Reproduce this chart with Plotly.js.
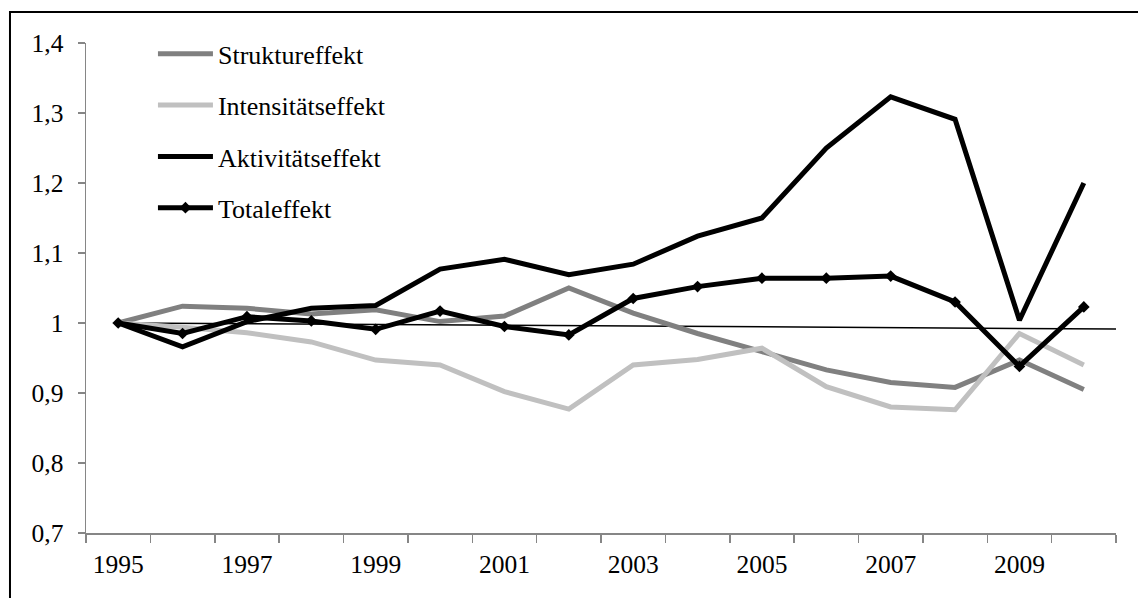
<!DOCTYPE html>
<html>
<head>
<meta charset="utf-8">
<script src="https://cdn.plot.ly/plotly-3.0.1.min.js"></script>
<style>
  html, body { margin: 0; padding: 0; background: #ffffff; }
  #chart { width: 1138px; height: 598px; }
</style>
</head>
<body>
<div id="chart"></div>
<script>
const years = [1995, 1996, 1997, 1998, 1999, 2000, 2001, 2002, 2003, 2004, 2005, 2006, 2007, 2008, 2009, 2010];
const struktureffekt   = [1.000, 1.024, 1.021, 1.013, 1.019, 1.002, 1.010, 1.050, 1.014, 0.985, 0.959, 0.933, 0.915, 0.908, 0.947, 0.905];
const intensitaetseffekt = [1.000, 0.994, 0.986, 0.973, 0.947, 0.940, 0.902, 0.877, 0.940, 0.948, 0.964, 0.909, 0.880, 0.876, 0.985, 0.940];
const aktivitaetseffekt = [1.000, 0.966, 1.002, 1.021, 1.025, 1.077, 1.091, 1.069, 1.084, 1.124, 1.150, 1.250, 1.323, 1.291, 1.004, 1.200];
const totaleffekt      = [1.000, 0.985, 1.009, 1.003, 0.991, 1.017, 0.995, 0.983, 1.035, 1.052, 1.064, 1.064, 1.067, 1.030, 0.938, 1.023];
const refLineX = [1995, 2010.62];
const refLineY = [1.000, 0.9914];
const seriesNames = ['Struktureffekt', 'Intensitätseffekt', 'Aktivitätseffekt', 'Totaleffekt'];
const yTickVals = [0.7, 0.8, 0.9, 1.0, 1.1, 1.2, 1.3, 1.4];
const yTickText = ['0,7', '0,8', '0,9', '1', '1,1', '1,2', '1,3', '1,4'];
const xTickVals = [1995, 1997, 1999, 2001, 2003, 2005, 2007, 2009];
const xTickText = ['1995', '1997', '1999', '2001', '2003', '2005', '2007', '2009'];

const FONT = 'Liberation Serif, Times New Roman, serif';
const AXIS_GRAY = '#868686';

const traces = [
  { x: refLineX, y: refLineY, type: 'scatter', mode: 'lines',
    line: { color: '#000000', width: 1.5 }, showlegend: false, hoverinfo: 'skip' },
  { x: years, y: struktureffekt, name: seriesNames[0], type: 'scatter', mode: 'lines',
    line: { color: '#808080', width: 5 }, legendgroup: 'g1' },
  { x: years, y: intensitaetseffekt, name: seriesNames[1], type: 'scatter', mode: 'lines',
    line: { color: '#c0c0c0', width: 5 }, legendgroup: 'g2' },
  { x: years, y: aktivitaetseffekt, name: seriesNames[2], type: 'scatter', mode: 'lines',
    line: { color: '#000000', width: 5 }, legendgroup: 'g3' },
  { x: years, y: totaleffekt, name: seriesNames[3], type: 'scatter', mode: 'lines+markers',
    line: { color: '#000000', width: 5 },
    marker: { symbol: 'diamond', size: 9, color: '#000000' }, legendgroup: 'g4' }
];

const layout = {
  width: 1138, height: 598,
  margin: { l: 86, r: 22, t: 43, b: 65 },
  paper_bgcolor: '#ffffff', plot_bgcolor: '#ffffff',
  font: { family: FONT, size: 26, color: '#000000' },
  showlegend: true,
  legend: {
    x: 0.065, y: 1.0257, xanchor: 'left', yanchor: 'top',
    bgcolor: 'rgba(0,0,0,0)', borderwidth: 0,
    font: { family: FONT, size: 26, color: '#000000' },
    itemwidth: 55, tracegroupgap: 14.5, traceorder: 'grouped'
  },
  xaxis: {
    type: 'linear', range: [1994.5, 2010.5],
    tickmode: 'array', tickvals: xTickVals, ticktext: xTickText,
    ticks: 'outside', ticklen: 0, ticklabelstandoff: 8,
    showgrid: false, zeroline: false,
    showline: true, linecolor: AXIS_GRAY, linewidth: 1.5,
    tickfont: { family: FONT, size: 25.5, color: '#000000' },
    minor: { tickmode: 'linear', tick0: 1994.5, dtick: 1, ticks: 'outside', ticklen: 8,
             tickcolor: AXIS_GRAY, tickwidth: 1.5, showgrid: false }
  },
  yaxis: {
    range: [0.7, 1.4],
    tickmode: 'array', tickvals: yTickVals, ticktext: yTickText,
    ticks: 'outside', ticklen: 7, tickcolor: AXIS_GRAY, tickwidth: 1.5,
    ticklabelstandoff: 9,
    showgrid: false, zeroline: false,
    showline: true, linecolor: AXIS_GRAY, linewidth: 1.5,
    tickfont: { family: FONT, size: 25.5, color: '#000000' }
  },
  shapes: [
    { type: 'rect', xref: 'paper', yref: 'paper',
      x0: -0.0738, x1: 1.03, y0: -0.15, y1: 1.0633,
      line: { color: '#000000', width: 2 }, fillcolor: 'rgba(0,0,0,0)', layer: 'below' }
  ]
};

Plotly.newPlot('chart', traces, layout, { displayModeBar: false, staticPlot: true });
</script>
</body>
</html>
